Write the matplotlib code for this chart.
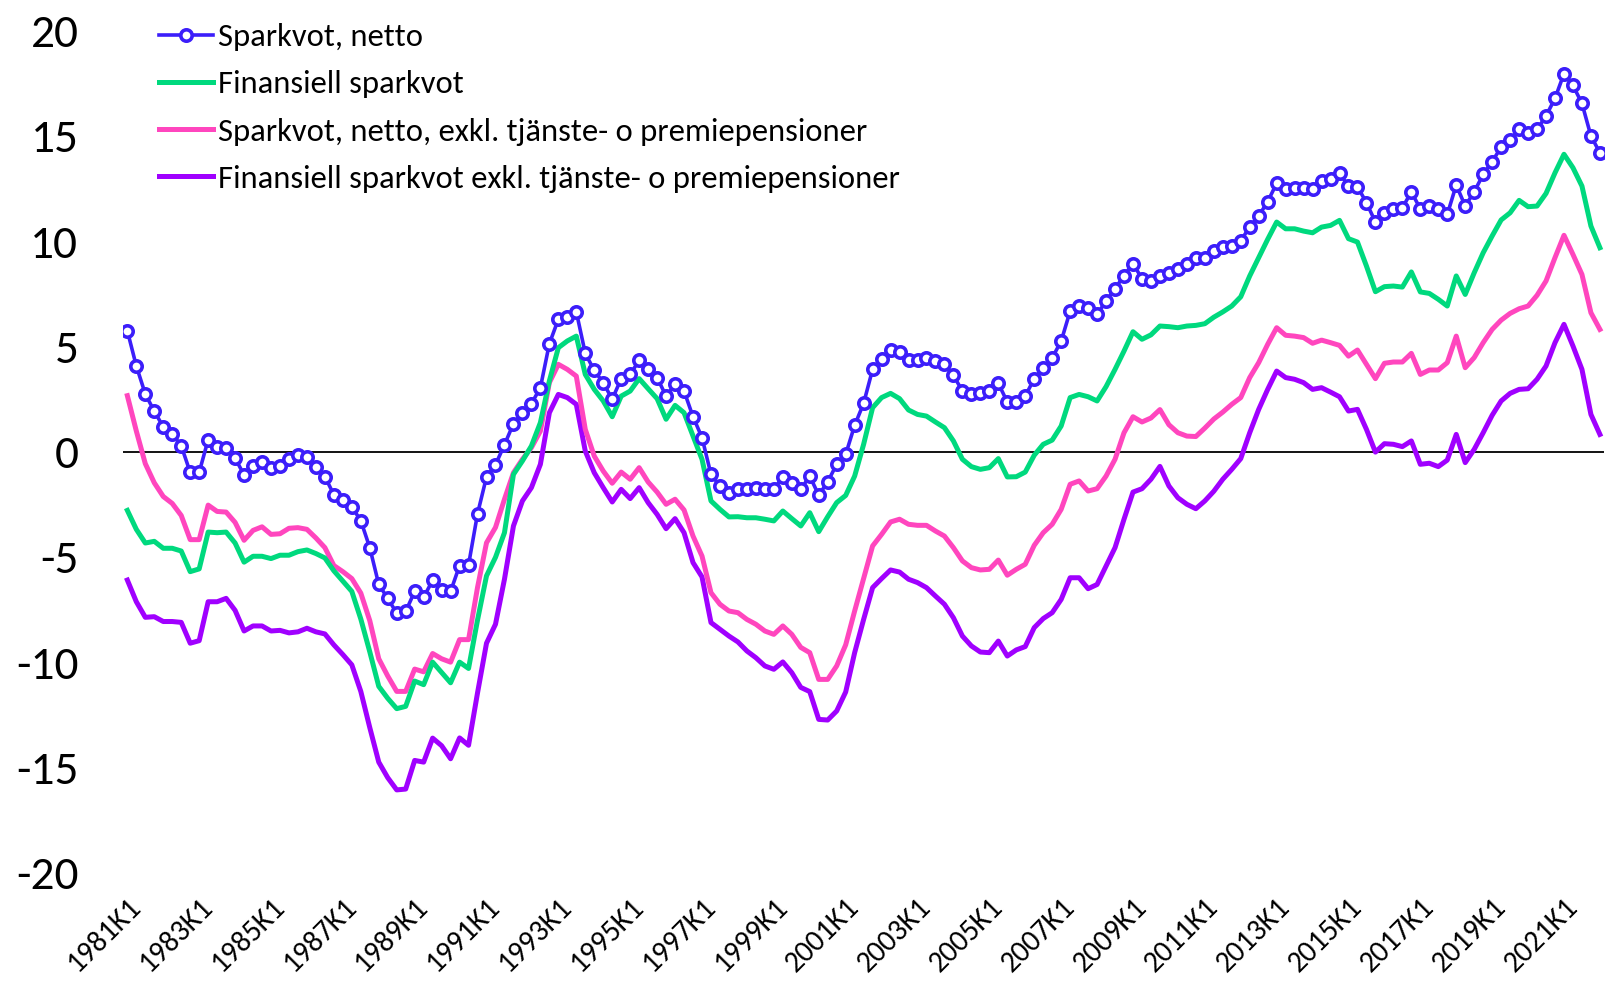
import matplotlib
matplotlib.use('Agg')
import matplotlib.pyplot as plt
import matplotlib.transforms as mtransforms
from matplotlib import font_manager
import numpy as np

# pick a narrow, Calibri-like font if one is around
installed = {f.name for f in font_manager.fontManager.ttflist}
family = next((n for n in ['Carlito', 'Liberation Sans Narrow', 'Liberation Sans']
               if n in installed), 'DejaVu Sans')
plt.rcParams['font.family'] = [family, 'DejaVu Sans']

# quarters 1981K1 .. 2022K1
years = [1981 + i // 4 for i in range(165)]
quarters = ['{}K{}'.format(y, i % 4 + 1) for i, y in enumerate(years)]

sparkvot_netto = [
    5.74, 4.07, 2.74, 1.92, 1.18, 0.85, 0.28, -0.98, -0.98, 0.57, 0.21, 0.16, -0.30, -1.11, -0.70, -0.49,
    -0.79, -0.66, -0.33, -0.16, -0.25, -0.74, -1.18, -2.05, -2.30, -2.62, -3.28, -4.56, -6.31, -6.97, -7.67, -7.59,
    -6.64, -6.92, -6.11, -6.56, -6.64, -5.41, -5.38, -2.95, -1.20, -0.62, 0.33,
    1.33, 1.85, 2.28, 3.04, 5.13, 6.29, 6.40, 6.65, 4.67, 3.86, 3.28, 2.49, 3.47, 3.67, 4.34, 3.91,
    3.52, 2.64, 3.20, 2.88, 1.66, 0.67, -1.08, -1.63, -1.95, -1.79, -1.76, -1.71, -1.76, -1.79, -1.19, -1.47,
    -1.79, -1.16, -2.07, -1.43, -0.60, -0.13,
    1.25, 2.30, 3.91, 4.42, 4.83, 4.75, 4.34, 4.34, 4.47, 4.31, 4.15, 3.63, 2.88, 2.72, 2.80, 2.88,
    3.25, 2.36, 2.36, 2.64, 3.47, 3.99, 4.46, 5.25, 6.68, 6.92, 6.84, 6.52, 7.16,
    7.74, 8.37, 8.94, 8.22, 8.10, 8.37, 8.50, 8.66, 8.94, 9.21,
    9.22, 9.53, 9.72, 9.77, 10.01, 10.69, 11.20, 11.88, 12.75, 12.46, 12.51, 12.51, 12.46, 12.86, 12.94, 13.22,
    12.62, 12.59, 11.83, 10.91, 11.35, 11.51, 11.59, 12.34, 11.54, 11.67, 11.51, 11.27, 12.67, 11.67, 12.35, 13.17,
    13.78, 14.47, 14.79, 15.34, 15.15, 15.31, 15.95, 16.79, 17.96, 17.40, 16.55, 15.00, 14.20]

finansiell = [
    -2.79, -3.69, -4.34, -4.26, -4.59, -4.59, -4.72, -5.70, -5.57, -3.82, -3.85, -3.82, -4.34, -5.25, -4.97, -4.97,
    -5.08, -4.92, -4.92, -4.75, -4.67, -4.84, -5.05, -5.66, -6.15, -6.64, -7.95, -9.51, -11.15, -11.72, -12.21, -12.10,
    -10.90, -11.07, -10.00, -10.49, -10.98, -10.00, -10.30, -8.00, -5.90, -5.02,
    -3.85, -1.08, -0.44, 0.27, 1.38, 3.36, 4.94, 5.26, 5.49, 3.67, 2.96, 2.41, 1.66, 2.64, 2.88, 3.47,
    2.99, 2.52, 1.54, 2.20, 1.85, 0.74, -0.36, -2.34, -2.74, -3.10, -3.09, -3.14, -3.14, -3.21, -3.29, -2.82,
    -3.18, -3.53, -2.90, -3.80, -3.09, -2.42, -2.08,
    -1.16, 0.35, 2.09, 2.57, 2.77, 2.52, 1.98, 1.77, 1.69, 1.41, 1.14, 0.51, -0.36, -0.71, -0.84, -0.76,
    -0.33, -1.20, -1.19, -0.97, -0.17, 0.35, 0.55, 1.22, 2.57, 2.72, 2.61, 2.41, 3.09, 3.91, 4.78, 5.70,
    5.34, 5.55, 5.97, 5.94, 5.89, 5.97, 6.00, 6.08, 6.39,
    6.64, 6.92, 7.36, 8.35, 9.22, 10.09, 10.91, 10.59, 10.59, 10.48, 10.40, 10.67, 10.75, 10.99, 10.12, 9.96,
    8.82, 7.60, 7.84, 7.87, 7.82, 8.54, 7.59, 7.52, 7.24, 6.92, 8.35, 7.47, 8.50, 9.45, 10.25, 11.01,
    11.35, 11.94, 11.64, 11.67, 12.27, 13.25, 14.13, 13.49, 12.62, 10.72, 9.69]

netto_exkl = [
    2.66, 0.98, -0.57, -1.48, -2.13, -2.46, -3.03, -4.18, -4.18, -2.54, -2.84, -2.87, -3.36, -4.21, -3.74, -3.57,
    -3.93, -3.90, -3.64, -3.61, -3.69, -4.10, -4.56, -5.41, -5.70, -6.03, -6.72, -8.03, -9.84, -10.66, -11.39, -11.39,
    -10.33, -10.46, -9.59, -9.84, -10.00, -8.93, -8.93, -6.45, -4.33, -3.60,
    -2.26, -1.00, -0.36, 0.19, 0.98, 3.28, 4.15, 3.91, 3.59, 1.06, -0.21, -0.92, -1.50, -0.97, -1.31, -0.76,
    -1.44, -1.92, -2.50, -2.26, -2.77, -4.01, -4.96, -6.70, -7.25, -7.57, -7.65, -7.97, -8.20, -8.52, -8.68, -8.28,
    -8.68, -9.30, -9.55, -10.82, -10.82, -10.18, -9.18,
    -7.57, -6.03, -4.48, -3.93, -3.34, -3.21, -3.45, -3.50, -3.50, -3.77, -4.01, -4.56, -5.19, -5.51, -5.62, -5.59,
    -5.15, -5.87, -5.59, -5.35, -4.45, -3.85, -3.45, -2.74, -1.55, -1.39, -1.87, -1.76, -1.16, -0.36, 0.90, 1.66,
    1.41, 1.60, 2.00, 1.28, 0.90, 0.74, 0.72, 1.12, 1.55,
    1.88, 2.25, 2.57, 3.52, 4.23, 5.10, 5.89, 5.53, 5.49, 5.42, 5.15, 5.30, 5.18, 5.05, 4.54, 4.83,
    4.15, 3.47, 4.20, 4.26, 4.26, 4.67, 3.67, 3.88, 3.88, 4.23, 5.49, 3.99, 4.47, 5.18, 5.81, 6.25,
    6.57, 6.79, 6.92, 7.43, 8.11, 9.22, 10.28, 9.37, 8.42, 6.60, 5.81]

finansiell_exkl = [
    -6.10, -7.13, -7.87, -7.84, -8.07, -8.07, -8.11, -9.10, -8.98, -7.13, -7.13, -6.97, -7.54, -8.52, -8.28, -8.28,
    -8.52, -8.49, -8.61, -8.56, -8.39, -8.56, -8.66, -9.18, -9.64, -10.13, -11.39, -13.11, -14.75, -15.49, -16.07, -16.03,
    -14.67, -14.75, -13.61, -13.97, -14.59, -13.60, -13.95, -11.46, -9.10, -8.20,
    -6.06, -3.53, -2.34, -1.71, -0.60, 1.85, 2.72, 2.57, 2.25, 0.03, -1.00, -1.71, -2.39, -1.79, -2.23, -1.71,
    -2.42, -2.98, -3.66, -3.18, -3.85, -5.27, -5.95, -8.12, -8.44, -8.76, -9.04, -9.47, -9.79, -10.18, -10.34, -9.99,
    -10.50, -11.20, -11.40, -12.72, -12.75, -12.32, -11.42,
    -9.55, -7.97, -6.46, -6.03, -5.62, -5.72, -6.06, -6.22, -6.46, -6.86, -7.25, -7.89, -8.76, -9.23, -9.52, -9.55,
    -9.00, -9.71, -9.42, -9.26, -8.36, -7.93, -7.65, -7.02, -5.99, -5.99, -6.51, -6.31, -5.43, -4.56, -3.21, -1.92,
    -1.76, -1.31, -0.70, -1.63, -2.19, -2.50, -2.71, -2.34, -1.88,
    -1.31, -0.84, -0.33, 0.90, 2.01, 2.96, 3.83, 3.52, 3.44, 3.28, 2.96, 3.04, 2.83, 2.61, 1.93, 2.01,
    1.06, -0.02, 0.38, 0.35, 0.24, 0.51, -0.60, -0.55, -0.71, -0.40, 0.82, -0.52, 0.11, 0.90, 1.73, 2.41,
    2.77, 2.96, 2.99, 3.44, 4.07, 5.18, 6.05, 5.02, 3.91, 1.77, 0.82]

labels = ['Sparkvot, netto',
          'Finansiell sparkvot',
          'Sparkvot, netto, exkl. tjänste- o premiepensioner',
          'Finansiell sparkvot exkl. tjänste- o premiepensioner']
colors = ['#3C1EFA', '#00D97E', '#FF46BE', '#A000FF']

x = np.arange(len(quarters))

fig = plt.figure(figsize=(16.06, 9.85), dpi=100)
ax = fig.add_axes([0.0765, 0.1141, 0.9225, 0.8547])

ax.axhline(0, color='black', linewidth=1.3, zorder=1)

ax.plot(x, sparkvot_netto, color=colors[0], linewidth=2.6, marker='o', markersize=8.2,
        markerfacecolor='white', markeredgewidth=2.6, label=labels[0], zorder=5)
ax.plot(x, finansiell, color=colors[1], linewidth=3.6, label=labels[1], zorder=4)
ax.plot(x, netto_exkl, color=colors[2], linewidth=3.6, label=labels[2], zorder=3)
ax.plot(x, finansiell_exkl, color=colors[3], linewidth=3.6, label=labels[3], zorder=2)

ax.set_xlim(-0.5, len(quarters) - 0.5)
ax.set_ylim(-20, 20)
ax.set_yticks(np.arange(-20, 21, 5))
ax.set_yticklabels([str(v) for v in range(-20, 21, 5)], fontsize=34)

ticks = x[::8]
ax.set_xticks(ticks)
ax.set_xticklabels([quarters[i] for i in ticks], rotation=45, ha='right', va='top',
                   rotation_mode='anchor', fontsize=21.5)
shift = mtransforms.ScaledTranslation(-15 / 100, 0, fig.dpi_scale_trans)
for lab in ax.get_xticklabels():
    lab.set_transform(lab.get_transform() + shift)

ax.tick_params(axis='both', length=0)
ax.tick_params(axis='y', pad=32)
ax.tick_params(axis='x', pad=15)
for s in ax.spines.values():
    s.set_visible(False)

leg = ax.legend(loc='upper left', bbox_to_anchor=(159 / 1606, 1 - 23 / 985),
                bbox_transform=fig.transFigure, frameon=False, fontsize=23.5,
                handlelength=1.66, handletextpad=0.15, labelspacing=0.59,
                borderpad=0, borderaxespad=0)

fig.savefig('out.png', dpi=100)
